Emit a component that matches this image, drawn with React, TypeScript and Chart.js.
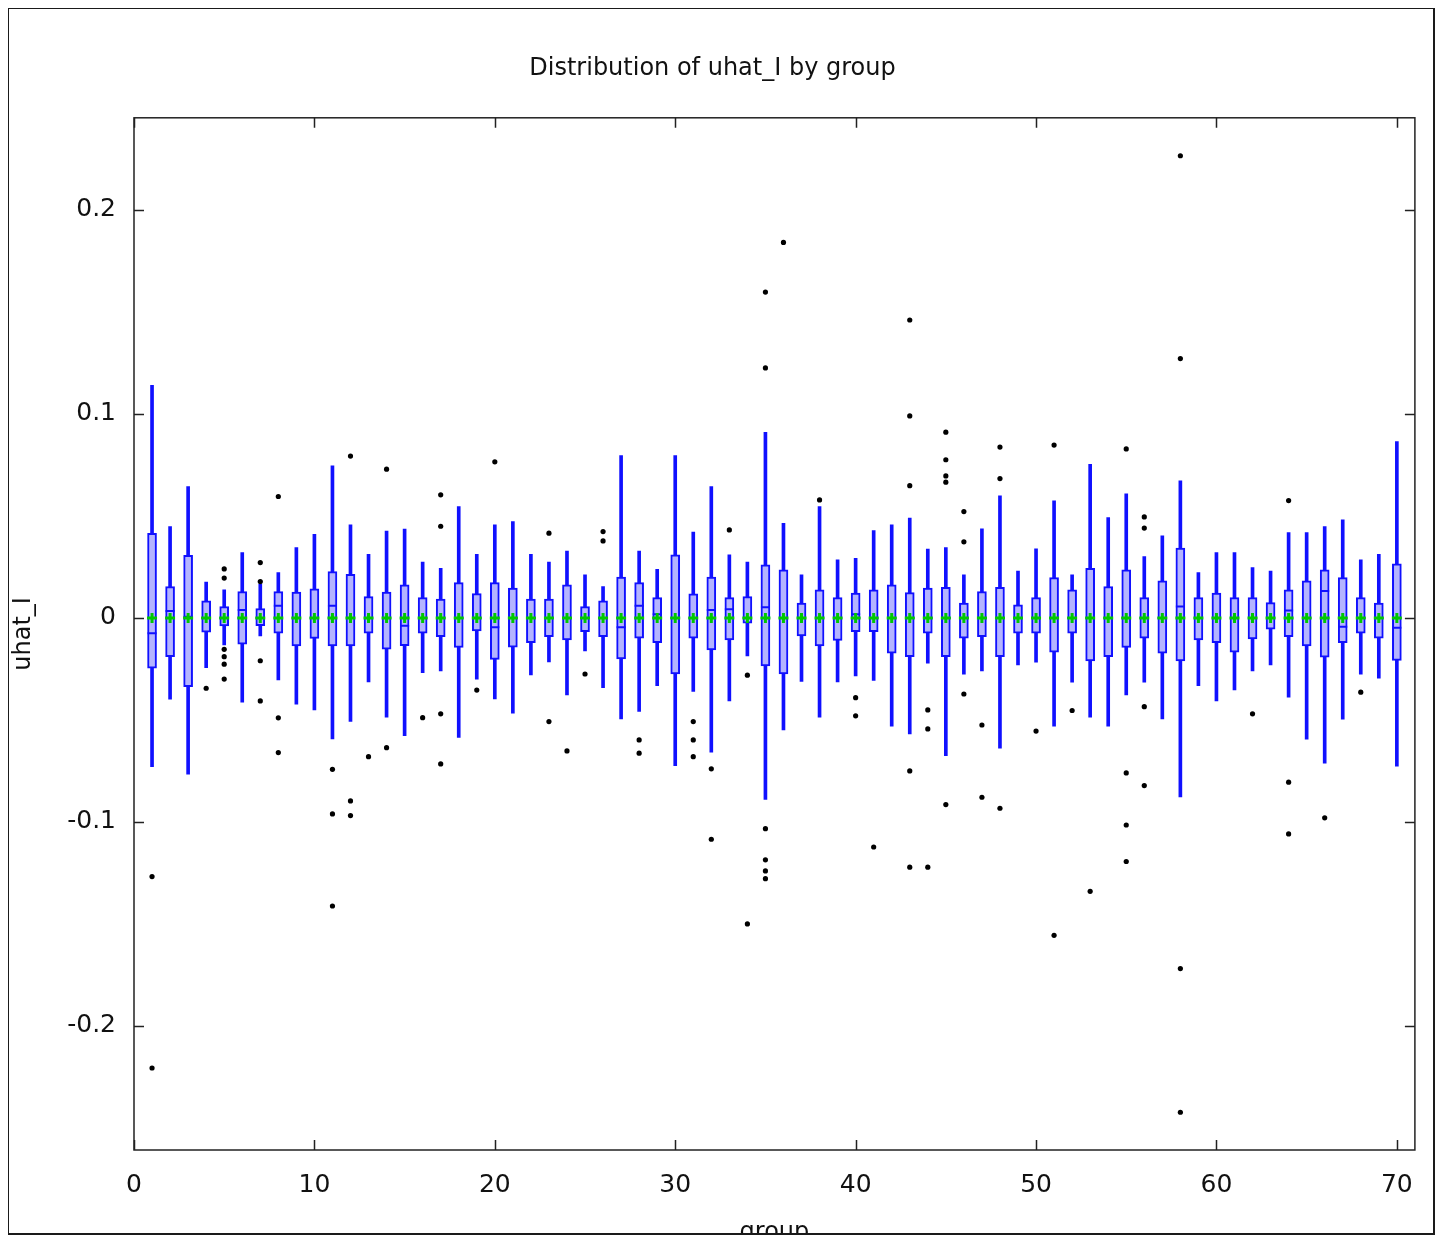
import React, { useEffect, useRef } from 'react';
import { Chart, registerables } from 'chart.js';

Chart.register(...registerables);

// ---------- data ----------
const groups = [
  1, 2, 3, 4, 5, 6, 7, 8, 9, 10,
  11, 12, 13, 14, 15, 16, 17, 18, 19, 20,
  21, 22, 23, 24, 25, 26, 27, 28, 29, 30,
  31, 32, 33, 34, 35, 36, 37, 38, 39, 40,
  41, 42, 43, 44, 45, 46, 47, 48, 49, 50,
  51, 52, 53, 54, 55, 56, 57, 58, 59, 60,
  61, 62, 63, 64, 65, 66, 67, 68, 69, 70,
];

const whiskerLow = [
  -0.0729, -0.0399, -0.0766, -0.0244, -0.0132, -0.0413, -0.0088, -0.0304, -0.0423, -0.0451,
  -0.0593, -0.0508, -0.0314, -0.0487, -0.0577, -0.0268, -0.026, -0.0586, -0.03, -0.0397,
  -0.0467, -0.0279, -0.0216, -0.0377, -0.0162, -0.0342, -0.0495, -0.0459, -0.0332, -0.0724,
  -0.0361, -0.0658, -0.0407, -0.0186, -0.089, -0.0549, -0.0312, -0.0487, -0.0314, -0.0284,
  -0.0307, -0.0531, -0.0569, -0.0222, -0.0675, -0.0276, -0.026, -0.0639, -0.023, -0.0217,
  -0.0531, -0.0315, -0.0487, -0.0531, -0.0377, -0.0315, -0.0495, -0.0877, -0.0332, -0.0407,
  -0.0353, -0.026, -0.023, -0.0389, -0.0595, -0.0712, -0.0497, -0.0276, -0.0295, -0.0727,
];

const q1 = [
  -0.0247, -0.019, -0.0337, -0.007, -0.0039, -0.0129, -0.0038, -0.0075, -0.0137, -0.0101,
  -0.0137, -0.0137, -0.0075, -0.0153, -0.0136, -0.0075, -0.0092, -0.0145, -0.0064, -0.0203,
  -0.0144, -0.0121, -0.0092, -0.0108, -0.0067, -0.0092, -0.0201, -0.01, -0.0121, -0.0275,
  -0.01, -0.0157, -0.0108, -0.0026, -0.0235, -0.0275, -0.0088, -0.0137, -0.0111, -0.0067,
  -0.0067, -0.0173, -0.019, -0.0075, -0.019, -0.01, -0.0092, -0.019, -0.0075, -0.0075,
  -0.0168, -0.0075, -0.0211, -0.019, -0.0145, -0.01, -0.0173, -0.0211, -0.0108, -0.0121,
  -0.0168, -0.0103, -0.0055, -0.0092, -0.0137, -0.0193, -0.0121, -0.0075, -0.01, -0.0209,
];

const median = [
  -0.0075, 0.0034, 0.0005, 0.0, 0.0, 0.0039, 0.0, 0.006, 0.0, 0.0,
  0.006, 0.0, 0.0, 0.0, -0.0039, 0.0, 0.0, 0.0, 0.0, -0.0046,
  0.0, 0.0, 0.0, 0.0, 0.0, 0.0, -0.0046, 0.0059, 0.0018, 0.0,
  0.0, 0.0039, 0.0042, 0.0, 0.0052, 0.0, 0.0, 0.0, 0.0, 0.0018,
  0.0, 0.0, 0.0, 0.0, 0.0, 0.0, 0.0, 0.0, 0.0, 0.0,
  0.0, 0.0, 0.0, 0.0, 0.0, 0.0, 0.0, 0.0056, 0.0, 0.0,
  0.0, 0.0, 0.0, 0.0036, 0.0, 0.0132, -0.0043, 0.0, 0.0, -0.0048,
];

const q3 = [
  0.0415, 0.0154, 0.0306, 0.0083, 0.0056, 0.0129, 0.0046, 0.0129, 0.0126, 0.0142,
  0.0227, 0.0214, 0.0105, 0.0126, 0.0162, 0.0099, 0.0092, 0.0173, 0.0119, 0.0173,
  0.0146, 0.0092, 0.0092, 0.0162, 0.0056, 0.0083, 0.02, 0.0173, 0.0099, 0.0309,
  0.0118, 0.02, 0.0099, 0.0105, 0.026, 0.0235, 0.0072, 0.0137, 0.0099, 0.0121,
  0.0137, 0.0162, 0.0124, 0.0146, 0.015, 0.0072, 0.0129, 0.015, 0.0064, 0.0099,
  0.0198, 0.0137, 0.0243, 0.0154, 0.0235, 0.0099, 0.0181, 0.0342, 0.0099, 0.0121,
  0.0099, 0.0099, 0.0075, 0.0137, 0.0181, 0.0235, 0.0198, 0.0099, 0.0072, 0.0265,
];

const whiskerHigh = [
  0.114, 0.0448, 0.0644, 0.0176, 0.0137, 0.032, 0.0165, 0.0222, 0.0345, 0.041,
  0.0745, 0.0456, 0.0312, 0.0426, 0.0435, 0.0273, 0.0243, 0.0546, 0.0312, 0.0456,
  0.0472, 0.0312, 0.0273, 0.0328, 0.0211, 0.0154, 0.0796, 0.0328, 0.0238, 0.0796,
  0.042, 0.0644, 0.0309, 0.0273, 0.091, 0.0464, 0.0211, 0.0546, 0.0284, 0.0292,
  0.0428, 0.0456, 0.0489, 0.0337, 0.0345, 0.0211, 0.0436, 0.0598, 0.023, 0.0338,
  0.0574, 0.0211, 0.0753, 0.0492, 0.0608, 0.03, 0.0402, 0.0672, 0.0222, 0.032,
  0.032, 0.0247, 0.023, 0.0418, 0.0418, 0.0448, 0.048, 0.0284, 0.0312, 0.0864,
];

const groupMeans = [
  0, 0, 0, 0, 0, 0, 0, 0, 0, 0,
  0, 0, 0, 0, 0, 0, 0, 0, 0, 0,
  0, 0, 0, 0, 0, 0, 0, 0, 0, 0,
  0, 0, 0, 0, 0, 0, 0, 0, 0, 0,
  0, 0, 0, 0, 0, 0, 0, 0, 0, 0,
  0, 0, 0, 0, 0, 0, 0, 0, 0, 0,
  0, 0, 0, 0, 0, 0, 0, 0, 0, 0,
];

const outlierGroup = [
  1, 1,
  4,
  5, 5, 5, 5, 5, 5,
  7, 7, 7, 7,
  8, 8, 8,
  11, 11, 11,
  12, 12, 12,
  13,
  14, 14,
  16,
  17, 17, 17, 17,
  19,
  20,
  23, 23,
  24,
  25,
  26, 26,
  28, 28,
  31, 31, 31,
  32, 32,
  33,
  34, 34,
  35, 35, 35, 35, 35, 35,
  36,
  38,
  40, 40,
  41,
  43, 43, 43, 43, 43,
  44, 44, 44,
  45, 45, 45, 45, 45,
  46, 46, 46,
  47, 47,
  48, 48, 48,
  50,
  51, 51,
  52,
  53,
  55, 55, 55, 55,
  56, 56, 56, 56,
  58, 58, 58, 58,
  62,
  64, 64, 64,
  66,
  68,
];

const outlierValue = [
  -0.1268, -0.2206,
  -0.0345,
  0.024, 0.0195, -0.0154, -0.019, -0.0227, -0.03,
  0.0271, 0.0178, -0.021, -0.0407,
  0.0595, -0.049, -0.066,
  -0.0742, -0.0961, -0.1412,
  0.0793, -0.0897, -0.0969,
  -0.068,
  0.0729, -0.0636,
  -0.0489,
  0.0603, 0.0449, -0.047, -0.0716,
  -0.0354,
  0.0765,
  0.0415, -0.0508,
  -0.0652,
  -0.0275,
  0.0423, 0.0377,
  -0.0598, -0.0663,
  -0.0508, -0.0598, -0.068,
  -0.074, -0.1085,
  0.0431,
  -0.0281, -0.15,
  0.1597, 0.1225, -0.1033, -0.1186, -0.124, -0.1278,
  0.184,
  0.0578,
  -0.0391, -0.048,
  -0.1123,
  0.146, 0.099, 0.0648, -0.075, -0.1222,
  -0.0451, -0.0544, -0.1222,
  0.091, 0.0775, 0.0696, 0.0665, -0.0915,
  0.0521, 0.0373, -0.0373,
  -0.0525, -0.0879,
  0.0837, 0.0683, -0.0933,
  -0.0555,
  0.0847, -0.1556,
  -0.0454,
  -0.134,
  0.0828, -0.076, -0.1015, -0.1194,
  0.0495, 0.044, -0.0435, -0.0822,
  0.2265, 0.1271, -0.1719, -0.2423,
  -0.047,
  0.0575, -0.0805, -0.1059,
  -0.098,
  -0.0364,
];

const xTickValues = [0, 10, 20, 30, 40, 50, 60, 70];
const yTickValues = [-0.2, -0.1, 0, 0.1, 0.2];

const chartTitle = 'Distribution of uhat_I by group';
const xTitle = 'group';
const yTitle = 'uhat_I';

// ---------- styling ----------
const FONT = '"DejaVu Sans", "Noto Sans", sans-serif';
const BLUE = '#1010ff';
const GREEN = '#00c800';

const CANVAS_W = 1424;
const CANVAS_H = 1238;

const framePlugin = {
  id: 'gnuplotFrame',
  afterDatasetsDraw(chart: any) {
    const { ctx, chartArea, scales } = chart;
    const { left, right, top, bottom } = chartArea;
    ctx.save();
    ctx.strokeStyle = '#222';
    ctx.lineWidth = 1.5;
    const tl = 10;
    ctx.beginPath();
    for (const v of xTickValues) {
      const px = Math.round(scales.x.getPixelForValue(v)) + 0.5;
      ctx.moveTo(px, bottom);
      ctx.lineTo(px, bottom - tl);
      ctx.moveTo(px, top);
      ctx.lineTo(px, top + tl);
    }
    for (const v of yTickValues) {
      const py = Math.round(scales.y.getPixelForValue(v)) + 0.5;
      ctx.moveTo(left, py);
      ctx.lineTo(left + tl, py);
      ctx.moveTo(right, py);
      ctx.lineTo(right - tl, py);
    }
    ctx.stroke();
    ctx.strokeRect(left, top, right - left, bottom - top);
    ctx.restore();
  },
};

export default function App() {
  const canvasRef = useRef<HTMLCanvasElement | null>(null);

  useEffect(() => {
    if (!canvasRef.current) return;
    const whiskerData = groups.map((g, i) => ({ x: g, y: [whiskerLow[i], whiskerHigh[i]] }));
    const boxData = groups.map((g, i) => ({ x: g, y: [q1[i], q3[i]] }));
    const medianData = groups.map((g, i) => ({ x: g, y: median[i] }));
    const meanData = groups.map((g, i) => ({ x: g, y: groupMeans[i] }));
    const outlierData = outlierGroup.map((g, i) => ({ x: g, y: outlierValue[i] }));

    const chart = new Chart(canvasRef.current, {
      type: 'bar',
      data: {
        datasets: [
          {
            type: 'bar',
            label: 'whiskers',
            data: whiskerData as any,
            backgroundColor: BLUE,
            borderWidth: 0,
            barThickness: 3,
            grouped: false,
            order: 4,
          } as any,
          {
            type: 'bar',
            label: 'box',
            data: boxData as any,
            backgroundColor: '#b4b4ff',
            borderColor: BLUE,
            borderWidth: 2,
            borderSkipped: false,
            barThickness: 9,
            grouped: false,
            order: 3,
          } as any,
          {
            type: 'scatter',
            label: 'median',
            data: medianData,
            pointStyle: 'line',
            radius: 4.5,
            borderWidth: 2,
            borderColor: BLUE,
            backgroundColor: BLUE,
            order: 2,
          } as any,
          {
            type: 'scatter',
            label: 'mean',
            data: meanData,
            pointStyle: 'cross',
            radius: 5,
            borderWidth: 3,
            borderColor: GREEN,
            backgroundColor: GREEN,
            order: 1,
          } as any,
          {
            type: 'scatter',
            label: 'outliers',
            data: outlierData,
            pointStyle: 'circle',
            radius: 2.6,
            borderWidth: 0,
            backgroundColor: '#000',
            order: 0,
          } as any,
        ],
      },
      options: {
        animation: false,
        responsive: false,
        devicePixelRatio: 1,
        layout: { padding: { left: 0, right: 17, top: 0, bottom: 0 } },
        plugins: {
          legend: { display: false },
          tooltip: { enabled: false },
          title: {
            display: true,
            text: chartTitle,
            color: '#111',
            font: { family: FONT, size: 24, weight: 'normal' },
            padding: { top: 45, bottom: 35 },
          },
        },
        scales: {
          x: {
            type: 'linear',
            offset: false,
            min: 0,
            max: 71,
            grid: { display: false, drawTicks: false, offset: false },
            border: { display: false },
            ticks: {
              color: '#111',
              font: { family: FONT, size: 25 },
              padding: 20,
              maxRotation: 0,
              callback: (v: any) => String(v),
            },
            afterBuildTicks: (scale: any) => {
              scale.ticks = xTickValues.map((v) => ({ value: v }));
            },
            afterFit: (scale: any) => {
              scale.height = 97;
            },
            title: {
              display: true,
              text: xTitle,
              color: '#111',
              font: { family: FONT, size: 24 },
              padding: 0,
            },
          },
          y: {
            type: 'linear',
            min: -0.2608,
            max: 0.2451,
            grid: { display: false, drawTicks: false },
            border: { display: false },
            ticks: {
              color: '#111',
              font: { family: FONT, size: 25 },
              padding: 18,
              callback: (v: any) => String(Math.round(Number(v) * 10) / 10),
            },
            afterBuildTicks: (scale: any) => {
              scale.ticks = yTickValues.map((v) => ({ value: v }));
            },
            afterFit: (scale: any) => {
              scale.width = 125;
            },
            title: {
              display: true,
              text: yTitle,
              color: '#111',
              font: { family: FONT, size: 24 },
              padding: 0,
            },
          },
        },
      },
      plugins: [framePlugin],
    } as any);

    return () => chart.destroy();
  }, []);

  return (
    <div
      style={{
        width: CANVAS_W,
        height: 1224,
        border: '2px solid #1a1a1a',
        overflow: 'hidden',
        marginLeft: -1,
        marginTop: -1,
        background: '#fff',
      }}
    >
      <canvas
        ref={canvasRef}
        width={CANVAS_W}
        height={CANVAS_H}
        style={{ display: 'block', width: CANVAS_W, height: CANVAS_H }}
      />
    </div>
  );
}
